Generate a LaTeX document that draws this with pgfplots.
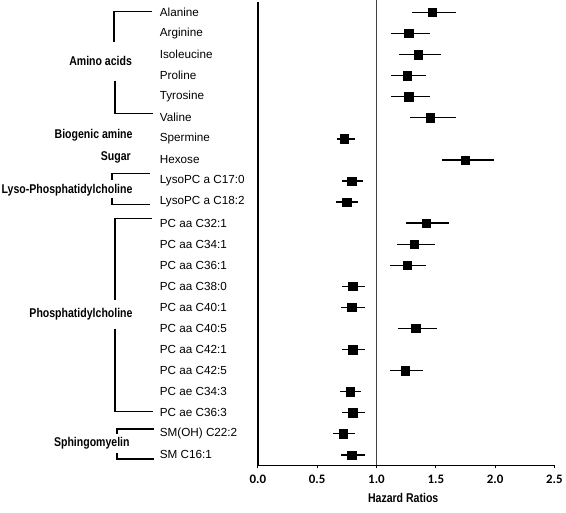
\documentclass[border=0pt]{standalone}
\usepackage{graphicx}
\usepackage{pgfplots}
\pgfplotsset{compat=1.18}
\usepackage{pgfplotstable}
\usepackage{fontspec}
\setmainfont{Liberation Sans}
\newfontfamily\tickfont{Carlito}
\newcommand{\nb}[1]{\scalebox{0.83}[1]{#1}}

\pgfplotstableread{
row hr lo hi
22 1.47 1.30 1.67
21 1.27 1.12 1.45
20 1.35 1.19 1.54
19 1.26 1.12 1.42
18 1.27 1.12 1.45
17 1.45 1.28 1.67
16 0.73 0.67 0.82
15 1.75 1.55 1.99
14 0.79 0.71 0.89
13 0.75 0.66 0.84
12 1.42 1.25 1.61
11 1.32 1.17 1.49
10 1.26 1.11 1.42
9 0.80 0.71 0.90
8 0.79 0.70 0.90
7 1.33 1.18 1.51
6 0.80 0.71 0.90
5 1.24 1.11 1.39
4 0.78 0.69 0.87
3 0.80 0.71 0.90
2 0.72 0.63 0.82
1 0.79 0.70 0.90
}\hrtable

\begin{document}
\begin{tikzpicture}
\begin{axis}[
  scale only axis,
  width=299bp, height=467.3bp,
  xmin=0, xmax=2.5, ymin=0.5, ymax=22.5,
  clip=false,
  axis x line*=bottom, axis y line*=left,
  axis line style={-},
  x axis line style={line width=0.9bp},
  y axis line style={line width=1.4bp},
  xtick={0,0.5,1,1.5,2,2.5},
  xticklabels={0.0,0.5,1.0,1.5,2.0,2.5},
  tick align=outside,
  major tick length=3bp,
  xtick style={line width=0.9bp, black},
  xticklabel style={font=\tickfont\bfseries\fontsize{13bp}{15bp}\selectfont, anchor=center, yshift=-11bp},
  ytick={1,...,22},
  yticklabels={SM C16:1, SM(OH) C22:2, PC ae C36:3, PC ae C34:3, PC aa C42:5, PC aa C42:1, PC aa C40:5, PC aa C40:1, PC aa C38:0, PC aa C36:1, PC aa C34:1, PC aa C32:1, LysoPC a C18:2, LysoPC a C17:0, Hexose, Spermine, Valine, Tyrosine, Proline, Isoleucine, Arginine, Alanine},
  ytick style={draw=none},
  yticklabel style={anchor=west, xshift=-96bp, inner sep=0pt, font=\fontsize{11.8bp}{14bp}\selectfont},
  xlabel={\nb{Hazard Ratios}},
  xlabel style={at={(axis description cs:0.5,0)}, anchor=center, yshift=-33bp, xshift=-3bp, font=\bfseries\fontsize{12.8bp}{15bp}\selectfont},
]
\draw[line width=0.9bp, black!75] (axis cs:1,0.5) -- (axis cs:1,22.57);
\addplot[black, only marks, mark=square*, mark size=4.2bp,
  error bars/.cd, x dir=both, x explicit, error mark=none,
  error bar style={line width=1.3bp, black}]
  table[x=hr, y=row, x error plus expr=\thisrow{hi}-\thisrow{hr}, x error minus expr=\thisrow{hr}-\thisrow{lo}] {\hrtable};

% brackets
\draw[line width=1.3bp] (axis cs:-0.895,22.05) -- (axis cs:-1.212,22.05) -- (axis cs:-1.212,20.59);
\draw[line width=1.3bp] (axis cs:-1.205,18.75) -- (axis cs:-1.205,17.20) -- (axis cs:-0.886,17.20);
\draw[line width=1.3bp] (axis cs:-0.911,14.37) -- (axis cs:-1.229,14.37) -- (axis cs:-1.229,14.04);
\draw[line width=1.3bp] (axis cs:-1.229,13.20) -- (axis cs:-1.229,12.87) -- (axis cs:-0.911,12.87);
\draw[line width=1.3bp] (axis cs:-0.895,12.21) -- (axis cs:-1.204,12.21) -- (axis cs:-1.204,8.35);
\draw[line width=1.3bp] (axis cs:-1.204,6.98) -- (axis cs:-1.204,3.06) -- (axis cs:-0.886,3.06);
\draw[line width=1.3bp] (axis cs:-0.878,2.23) -- (axis cs:-1.187,2.23) -- (axis cs:-1.187,1.99);
\draw[line width=1.3bp] (axis cs:-1.187,1.11) -- (axis cs:-1.187,0.81) -- (axis cs:-0.878,0.81);

% group labels
\begin{scope}[every node/.style={anchor=mid east, inner sep=0pt, font=\bfseries\fontsize{12.8bp}{15bp}\selectfont}]
\node at (axis cs:-1.06,19.60) {\nb{Amino acids}};
\node at (axis cs:-1.055,16.15) {\nb{Biogenic amine}};
\node at (axis cs:-1.07,15.11) {\nb{Sugar}};
\node at (axis cs:-1.056,13.55) {\nb{Lyso-Phosphatidylcholine}};
\node at (axis cs:-1.055,7.64) {\nb{Phosphatidylcholine}};
\node at (axis cs:-1.08,1.51) {\nb{Sphingomyelin}};
\end{scope}
\end{axis}
\path (current axis.south west) ++(-260bp,-47.3bp) rectangle ++(566bp,516bp);
\end{tikzpicture}
\end{document}
